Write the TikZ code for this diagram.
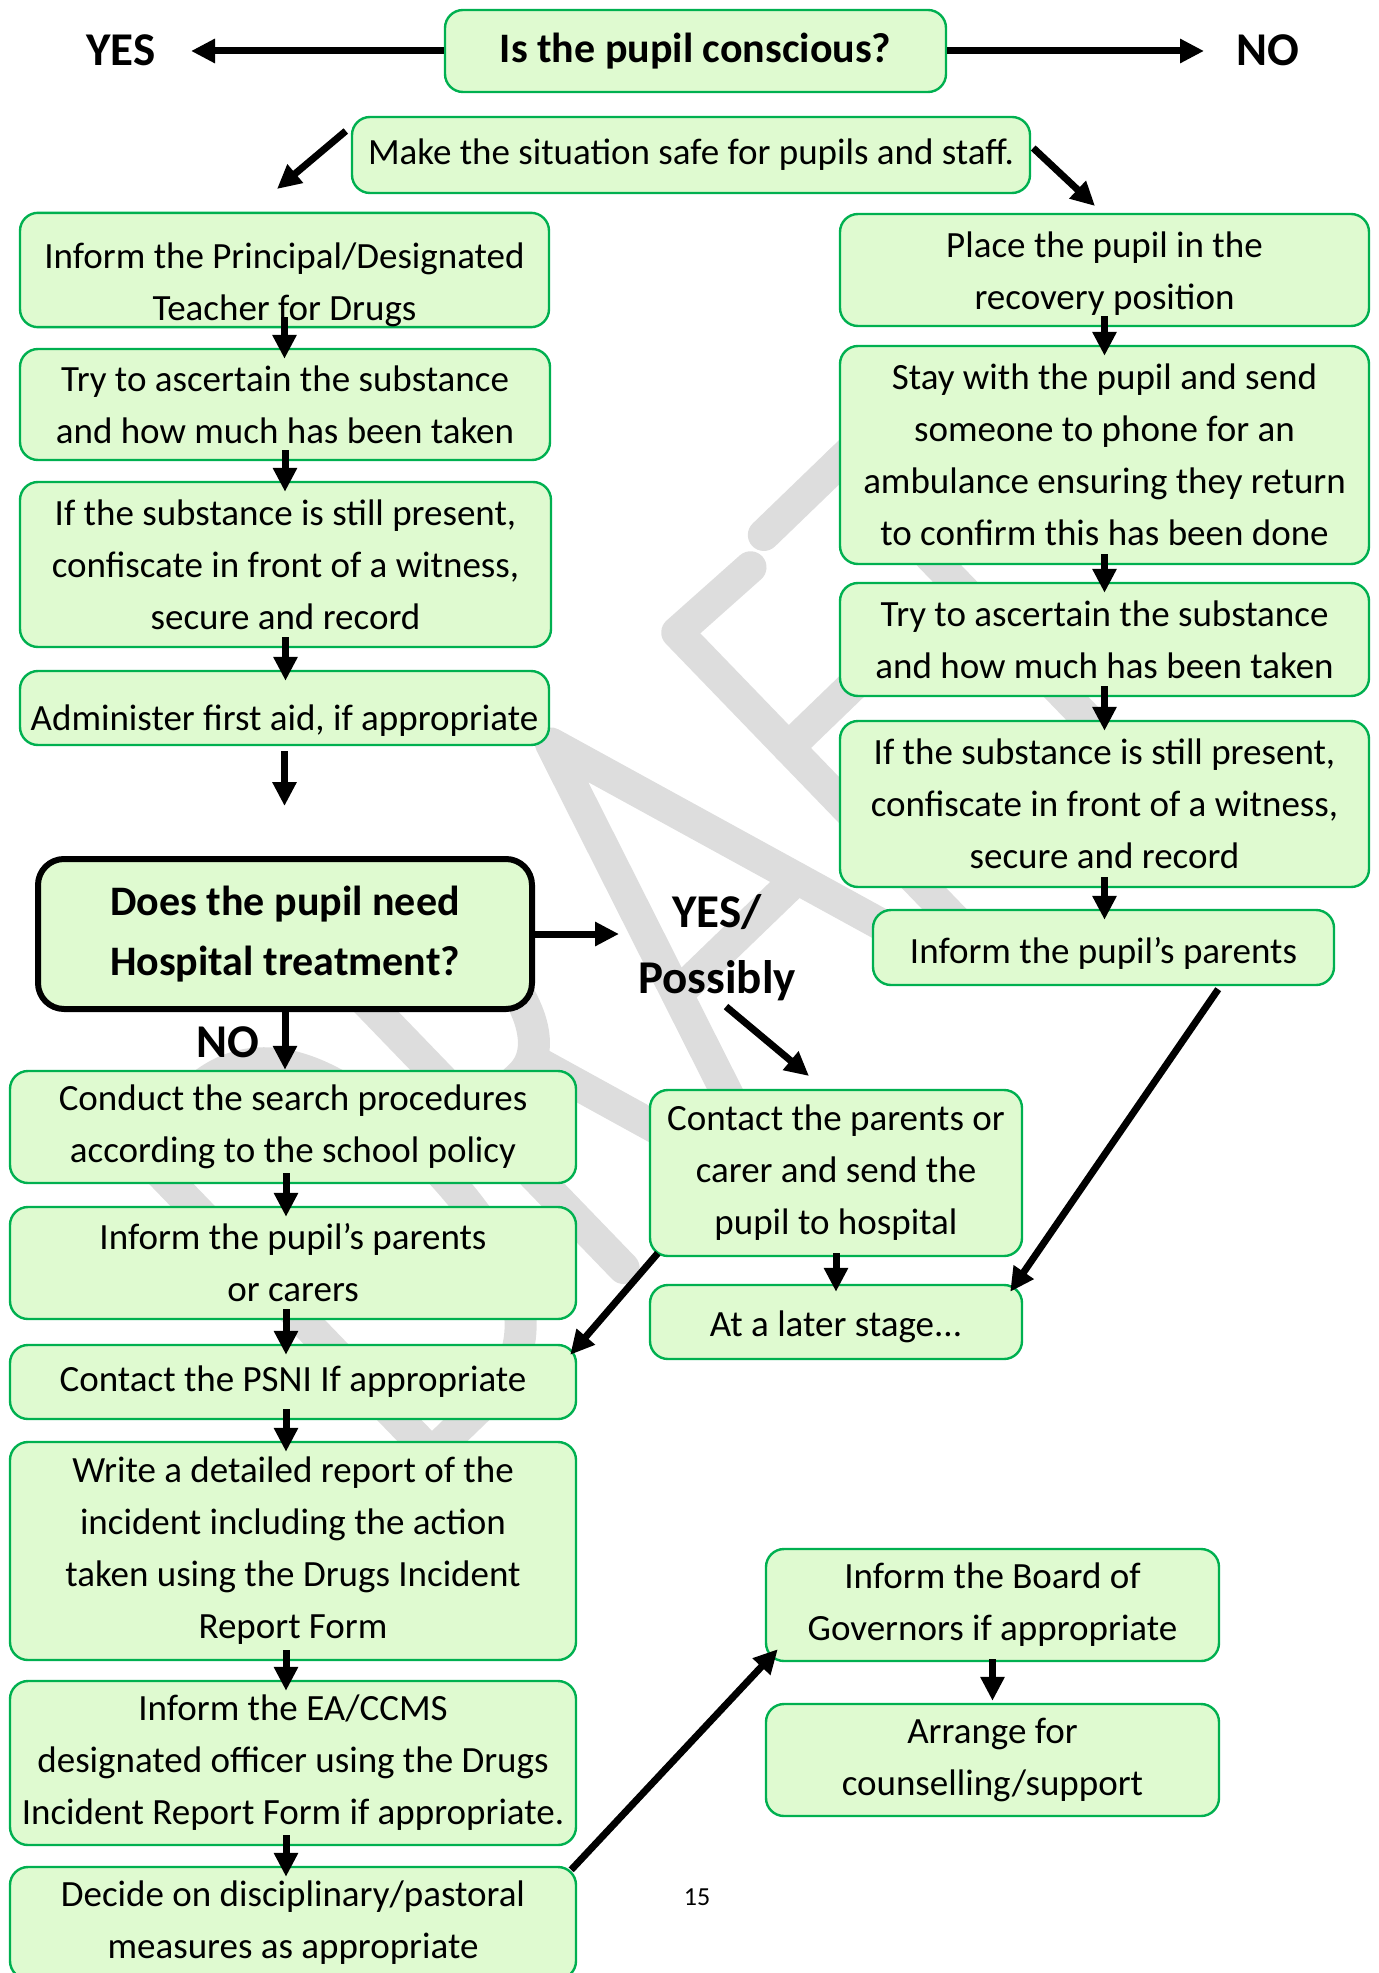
\documentclass[tikz,border=0pt]{standalone}
\usepackage{fontspec}
\setmainfont{Carlito}
\usetikzlibrary{arrows.meta}
\definecolor{boxgreen}{RGB}{0,176,80}
\definecolor{boxfill}{RGB}{223,250,208}
\definecolor{wmgray}{RGB}{221,221,221}
\def\bodyfont{\fontsize{18.5pt}{26pt}\selectfont}
\def\headfont{\fontsize{21pt}{30pt}\selectfont\bfseries}
\def\labfont{\fontsize{23.5pt}{33pt}\selectfont\bfseries}
\def\DA#1#2{\draw[arr] ([yshift=5.5pt]#1.south) -- ([yshift=-5.5pt]#1.south |- #2.north);}
\def\DB#1#2{\draw[arr] ([xshift=-3.5pt,yshift=5.5pt]#1.south) -- ([xshift=-3.5pt,yshift=-5.5pt]#2.north);}
\tikzset{
  stepbox/.style={draw=boxgreen, fill=boxfill, line width=1.2pt, rounded corners=9pt,
    align=center, inner sep=0pt, font=\bodyfont},
  askbox/.style={stepbox, draw=black, line width=3pt, rounded corners=13pt, font=\headfont},
  lab/.style={font=\labfont, align=center, inner sep=0pt},
  arr/.style={line width=3.5pt, -{Triangle[width=11.5pt,length=12pt]}},
  wm/.style={draw=wmgray, line width=16pt, line cap=round, line join=round}
}

\begin{document}
\begin{tikzpicture}[x=0.5pt,y=-0.5pt]
\useasboundingbox (0,0) rectangle (1379,1973);
\clip (0,0) rectangle (1379,1973);
% watermark letters D R A F T
\begin{scope}[shift={(934.5,884.5)}, x={(0.3597pt,0.3473pt)}, y={(-0.3473pt,0.3597pt)}]
  \draw[wm] (-757,-60) -- (-757,365) -- (-680,365) .. controls (-580,365) and (-555,260) .. (-555,152)
    .. controls (-555,45) and (-580,-60) .. (-680,-60) -- cycle;
  \draw[wm] (-490,-60) -- (-490,365) -- (-430,365) .. controls (-350,365) and (-350,150) .. (-430,150) -- (-490,150);
  \draw[wm] (-410,150) -- (-345,-60);
  \draw[wm] (-311,-60) -- (-178,368) -- (-45,-60);
  \draw[wm] (-261,100) -- (-95,100);
  \draw[wm] (88,356) -- (-10,360) -- (-10,-60);
  \draw[wm] (-10,200) -- (95,200);
  \draw[wm] (120,370) -- (330,370);
  \draw[wm] (225,370) -- (225,-60);
\end{scope}

\node[stepbox, font=\headfont, minimum width=250.5pt, minimum height=41pt] (conscious) at (695.5,51) {Is the pupil conscious?};
\node[lab] (yes) at (121,50) {YES};
\node[lab] (no) at (1268,50) {NO};
\node[stepbox, minimum width=339pt, minimum height=38pt] (safe) at (691,155) {Make the situation safe for pupils and staff.};

% left column
\node[stepbox, minimum width=264.5pt, minimum height=56pt] (principal) at (284.5,270) {\rule{0pt}{28pt}Inform the Principal/Designated\\Teacher for Drugs};
\node[stepbox, minimum width=265pt, minimum height=55.5pt] (ascL) at (285,404.5) {Try to ascertain the substance\\and how much has been taken};
\node[stepbox, minimum width=265.5pt, minimum height=82.5pt] (presL) at (285.5,564.5) {If the substance is still present,\\confiscate in front of a witness,\\secure and record};
\node[stepbox, minimum width=264.5pt, minimum height=37pt] (firstaid) at (284.5,708) {\rule{0pt}{25pt}Administer first aid, if appropriate};
\node[askbox, minimum width=247pt, minimum height=75pt] (hospital) at (285,934) {Does the pupil need\\Hospital treatment?};
\node[lab] (nohosp) at (228,1042) {NO};
\node[lab] (yesposs) at (717,948) {YES/\\Possibly};
\node[stepbox, minimum width=283pt, minimum height=56pt] (search) at (293,1127) {Conduct the search procedures\\according to the school policy};
\node[stepbox, minimum width=283pt, minimum height=56pt] (parL) at (293,1263) {Inform the pupil’s parents\\or carers};
\node[stepbox, minimum width=283pt, minimum height=37pt] (psni) at (293,1382) {Contact the PSNI If appropriate};
\node[stepbox, minimum width=283pt, minimum height=109pt] (report) at (293,1551) {Write a detailed report of the\\incident including the action\\taken using the Drugs Incident\\Report Form};
\node[stepbox, minimum width=283pt, minimum height=82pt] (ea) at (293,1763) {Inform the EA/CCMS\\designated officer using the Drugs\\Incident Report Form if appropriate.};
\node[stepbox, minimum width=283pt, minimum height=56pt] (decide) at (293,1923) {Decide on disciplinary/pastoral\\measures as appropriate};

% right column
\node[stepbox, minimum width=264.5pt, minimum height=56pt] (recovery) at (1104.5,270) {\rule{0pt}{16pt}Place the pupil in the\\recovery position};
\node[stepbox, minimum width=264.5pt, minimum height=109pt] (stay) at (1104.5,455) {Stay with the pupil and send\\someone to phone for an\\ambulance ensuring they return\\to confirm this has been done};
\node[stepbox, minimum width=264.5pt, minimum height=56.5pt] (ascR) at (1104.5,639.5) {Try to ascertain the substance\\and how much has been taken};
\node[stepbox, minimum width=264.5pt, minimum height=83pt] (presR) at (1104.5,804) {If the substance is still present,\\confiscate in front of a witness,\\secure and record};
\node[stepbox, minimum width=230.5pt, minimum height=37.5pt] (parR) at (1103.5,947.5) {\rule{0pt}{19pt}Inform the pupil’s parents};

\node[stepbox, minimum width=186pt, minimum height=83pt] (contact) at (836,1173) {Contact the parents or\\carer and send the\\pupil to hospital};
\node[stepbox, minimum width=186pt, minimum height=37pt] (later) at (836,1322) {\rule{0pt}{18pt}At a later stage...};
\node[stepbox, minimum width=226.5pt, minimum height=56pt] (board) at (992.5,1605) {Inform the Board of\\Governors if appropriate};
\node[stepbox, minimum width=226.5pt, minimum height=56pt] (counsel) at (992.5,1760) {Arrange for\\counselling/support};
\node[font=\fontsize{13pt}{15pt}\selectfont] (page) at (697,1897) {15};

\coordinate (yesend) at (191,51);
\coordinate (noend) at (1204,51);
\coordinate (safeL) at (277,189);
\coordinate (safeR) at (1095,206);
\coordinate (aidend) at (284.5,806);
\coordinate (hospend) at (619,934);
\coordinate (possend) at (809,1076);

\draw[arr] (conscious.west) -- (yesend);
\draw[arr] (conscious.east) -- (noend);
\draw[arr] ([shift={(-5,-24)}]safe.west) -- (safeL);
\draw[arr] ([shift={(2,-7)}]safe.east) -- (safeR);
\DA{principal}{ascL} \DA{ascL}{presL} \DA{presL}{firstaid}
\draw[arr] ([yshift=-2.5pt]firstaid.south) -- (aidend);
\draw[arr] (hospital.east) -- (hospend);
\draw[arr] (hospital.south) -- (hospital.south |- search.north);
\draw[arr] ([shift={(9,5)}]yesposs.south) -- (possend);
\DB{search}{parL} \DB{parL}{psni} \DB{psni}{report} \DB{report}{ea} \DB{ea}{decide}
\DA{recovery}{stay} \DA{stay}{ascR} \DA{ascR}{presR} \DA{presR}{parR}
\draw[arr] ([yshift=2pt]contact.south) -- ([yshift=-4pt]later.north);
\draw[arr] ([shift={(9,-4)}]contact.south west) -- ([shift={(-7,11)}]psni.north east);
\draw[arr] ([shift={(-117,3)}]parR.south east) -- ([shift={(-13,8)}]later.north east);
\draw[arr] ([shift={(-6,4)}]decide.north east) -- ([shift={(13,-13)}]board.south west);
\draw[arr] ([yshift=1.5pt]board.south) -- ([yshift=1pt]counsel.north);
\end{tikzpicture}
\end{document}
